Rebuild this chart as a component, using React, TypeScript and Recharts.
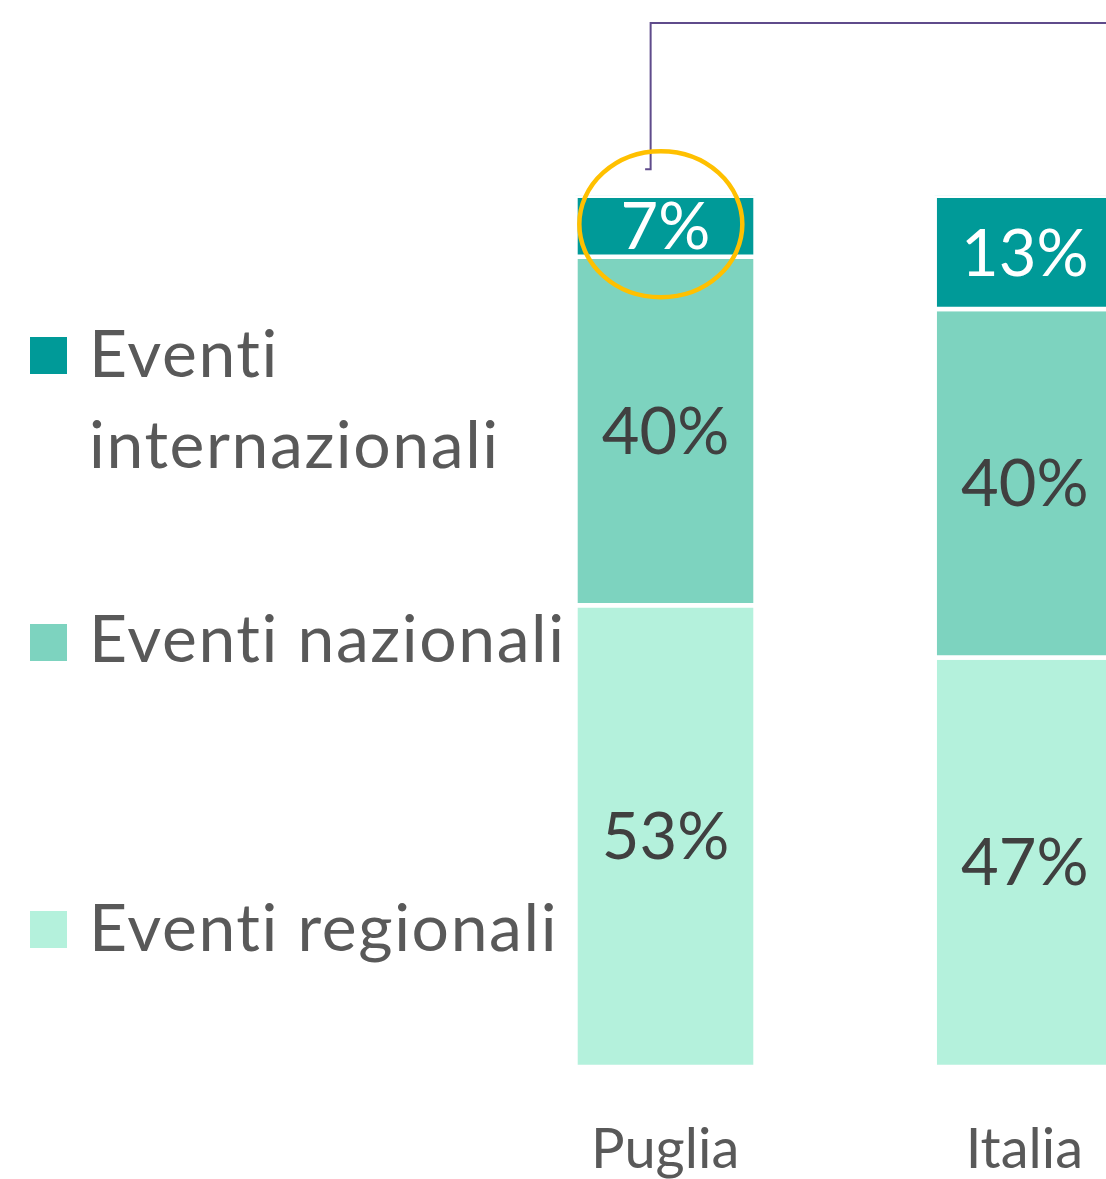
import React from 'react';
import { BarChart, Bar, XAxis, YAxis, Legend, LabelList, ReferenceDot } from 'recharts';

const categories = ['Puglia', 'Italia'];
const regionali = [53, 47];
const nazionali = [40, 40];
const internazionali = [7, 13];

const seriesNames = ['Eventi internazionali', 'Eventi nazionali', 'Eventi regionali'];
const seriesColors = ['#009A98', '#7DD3BF', '#B4F1DC'];

const data = categories.map((c, i) => ({
  name: c,
  regionali: regionali[i],
  nazionali: nazionali[i],
  internazionali: internazionali[i],
}));

const FONT = 'Lato, "Open Sans", sans-serif';
const GREY = '#595959';

// legend drawn on the left, one entry per series (top to bottom)
const legendRows = [
  { sq: 337, lines: ['Eventi', 'internazionali'], base: [377, 468] },
  { sq: 624, lines: ['Eventi nazionali'], base: [662] },
  { sq: 911, lines: ['Eventi regionali'], base: [951] },
];

function LeftLegend() {
  return (
    <svg width={580} height={1179} style={{ display: 'block', fontVariantLigatures: 'none' }}>
      {legendRows.map((r, i) => (
        <g key={seriesNames[i]}>
          <rect x={30} y={r.sq} width={37} height={37} fill={seriesColors[i]} />
          {r.lines.map((t, j) => (
            <text key={t} x={89} y={r.base[j]} fontSize={66} letterSpacing={1.6} fontFamily={FONT} fill={GREY}>
              {t}
            </text>
          ))}
        </g>
      ))}
    </svg>
  );
}

function Callout(props: any) {
  const { cx, cy } = props;
  if (cx == null || cy == null) return null;
  const lx = cx - 14.5;
  return (
    <g>
      <path
        d={`M ${lx - 5.5} ${cy - 26.5} L ${lx} ${cy - 26.5} L ${lx} ${cy - 172.8} L ${cx + 700} ${cy - 172.8}`}
        fill="none"
        stroke="#5F4B8B"
        strokeWidth={2}
      />
      <ellipse cx={cx - 4.3} cy={cy + 28.5} rx={81.5} ry={73} fill="none" stroke="#FFC000" strokeWidth={4.5} />
    </g>
  );
}

export default function App() {
  return (
    <div style={{ position: 'absolute', left: 0, top: 0, width: 1106, height: 1179, overflow: 'hidden', background: '#fff', fontVariantLigatures: 'none' }}>
      <BarChart
        width={1204}
        height={1179}
        data={data}
        margin={{ top: 195.8, right: 0, bottom: 0, left: 485.5 }}
      >
        <XAxis
          dataKey="name"
          axisLine={false}
          tickLine={false}
          tickSize={0}
          tickMargin={61}
          height={112}
          tick={{ fontSize: 56, fill: GREY, fontFamily: FONT }}
          interval={0}
        />
        <YAxis type="number" domain={[0, 100]} hide allowDataOverflow />
        <Legend
          layout="horizontal"
          verticalAlign="middle"
          align="center"
          wrapperStyle={{ left: 0, top: 0, width: 580, height: 1179 }}
          content={() => <LeftLegend />}
        />
        <Bar dataKey="regionali" stackId="a" fill={seriesColors[2]} stroke="#fff" strokeWidth={4.4} barSize={180} isAnimationActive={false}>
          <LabelList dataKey="regionali" position="center" formatter={(v: any) => `${v}%`} fill="#404040" fontSize={65} fontFamily={FONT} />
        </Bar>
        <Bar dataKey="nazionali" stackId="a" fill={seriesColors[1]} stroke="#fff" strokeWidth={4.4} barSize={180} isAnimationActive={false}>
          <LabelList dataKey="nazionali" position="center" formatter={(v: any) => `${v}%`} fill="#404040" fontSize={65} fontFamily={FONT} />
        </Bar>
        <Bar dataKey="internazionali" stackId="a" fill={seriesColors[0]} stroke="#fff" strokeWidth={4.4} barSize={180} isAnimationActive={false}>
          <LabelList dataKey="internazionali" position="center" formatter={(v: any) => `${v}%`} fill="#fff" fontSize={65} fontFamily={FONT} />
        </Bar>
        <ReferenceDot x="Puglia" y={100} ifOverflow="visible" shape={<Callout />} />
      </BarChart>
    </div>
  );
}
